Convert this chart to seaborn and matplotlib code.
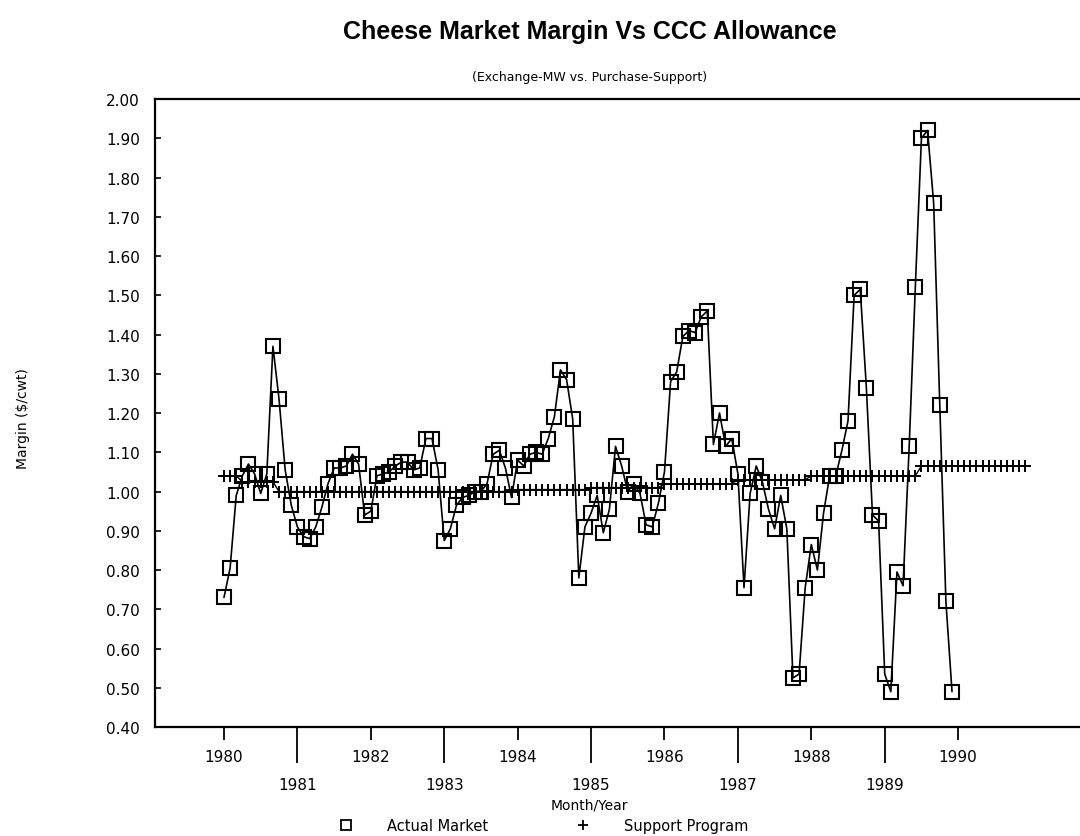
import numpy as np
import pandas as pd
import matplotlib
matplotlib.use("Agg")
import matplotlib.pyplot as plt
import seaborn as sns
from matplotlib import font_manager
from matplotlib.lines import Line2D

# monthly margin ($/cwt), Jan..Dec per year
actual_1980 = [0.73, 0.805, 0.99, 1.04, 1.07, 1.045, 0.995, 1.045, 1.37, 1.235, 1.055, 0.965]
actual_1981 = [0.91, 0.885, 0.88, 0.91, 0.96, 1.02, 1.06, 1.06, 1.065, 1.095, 1.07, 0.94]
actual_1982 = [0.95, 1.04, 1.045, 1.05, 1.065, 1.075, 1.075, 1.055, 1.06, 1.135, 1.135, 1.055]
actual_1983 = [0.875, 0.905, 0.965, 0.985, 0.99, 1.00, 1.00, 1.02, 1.095, 1.105, 1.06, 0.985]
actual_1984 = [1.08, 1.065, 1.095, 1.10, 1.095, 1.135, 1.19, 1.31, 1.285, 1.185, 0.78, 0.91]
actual_1985 = [0.945, 0.99, 0.895, 0.955, 1.115, 1.065, 1.00, 1.02, 0.995, 0.915, 0.91, 0.97]
actual_1986 = [1.05, 1.28, 1.305, 1.395, 1.41, 1.405, 1.445, 1.46, 1.12, 1.20, 1.115, 1.135]
actual_1987 = [1.045, 0.755, 0.995, 1.065, 1.025, 0.955, 0.905, 0.99, 0.905, 0.525, 0.535, 0.755]
actual_1988 = [0.865, 0.80, 0.945, 1.04, 1.04, 1.105, 1.18, 1.50, 1.515, 1.265, 0.94, 0.925]
actual_1989 = [0.535, 0.49, 0.795, 0.76, 1.115, 1.52, 1.90, 1.92, 1.735, 1.22, 0.72, 0.49]

# support program allowance: (level, number of months), Jan 1980 .. Dec 1990
support_levels = [1.04, 1.025, 1.00, 1.005, 1.01, 1.02, 1.03, 1.04, 1.065]
support_months = [3, 6, 39, 12, 12, 12, 12, 18, 18]

even_years = [1980, 1982, 1984, 1986, 1988, 1990]
odd_years = [1981, 1983, 1985, 1987, 1989]
y_ticks = [0.40, 0.50, 0.60, 0.70, 0.80, 0.90, 1.00, 1.10, 1.20, 1.30, 1.40, 1.50, 1.60, 1.70, 1.80, 1.90, 2.00]

actual = (actual_1980 + actual_1981 + actual_1982 + actual_1983 + actual_1984 +
          actual_1985 + actual_1986 + actual_1987 + actual_1988 + actual_1989)
support = np.repeat(support_levels, support_months)

df_actual = pd.DataFrame({"year": 1980 + np.arange(len(actual)) / 12, "margin": actual})
df_support = pd.DataFrame({"year": 1980 + np.arange(len(support)) / 12, "margin": support})

sns.set_style("ticks")
avail = {f.name for f in font_manager.fontManager.ttflist}
title_font = "Liberation Sans" if "Liberation Sans" in avail else "DejaVu Sans"
plt.rcParams["font.family"] = ["DejaVu Sans"]
for k in ["text.color", "axes.labelcolor", "xtick.color", "ytick.color", "axes.edgecolor"]:
    plt.rcParams[k] = "black"

fig = plt.figure(figsize=(10.8, 8.37), dpi=100)
ax = fig.add_axes([0.1435, 0.1302, 0.8565, 0.7503])

sns.lineplot(data=df_support, x="year", y="margin", ax=ax, color="black", lw=1.0,
             marker="+", markersize=8, mew=1.4, mec="black")
sns.lineplot(data=df_actual, x="year", y="margin", ax=ax, color="black", lw=1.2,
             marker="s", markersize=10, mew=1.5, mfc="none", mec="black")

ax.set_xlim(1979.06, 1991.66)
ax.set_ylim(0.40, 2.00)
ax.set_yticks(y_ticks)
ax.set_yticklabels([f"{v:.2f}" for v in y_ticks])
ax.set_xticks(even_years)
ax.set_xticklabels([str(y) for y in even_years])
ax.set_xticks(odd_years, minor=True)
ax.set_xticklabels([str(y) for y in odd_years], minor=True)
ax.set_xlabel("")
ax.set_ylabel("")

ax.tick_params(axis="x", which="major", direction="out", length=9, width=1.3, pad=7, labelsize=11)
ax.tick_params(axis="x", which="minor", direction="out", length=26, width=1.3, pad=10, labelsize=11)
ax.tick_params(axis="y", direction="in", length=4, width=1.2, pad=11, labelsize=11)

for s in ["left", "bottom", "top"]:
    ax.spines[s].set_linewidth(1.6)
ax.spines["right"].set_visible(False)

fig.text(0.546, 0.962, "Cheese Market Margin Vs CCC Allowance", ha="center", va="center",
         fontsize=18, fontweight="bold", family=title_font)
fig.text(0.546, 0.908, "(Exchange-MW vs. Purchase-Support)", ha="center", va="center", fontsize=9)
fig.text(0.546, 0.038, "Month/Year", ha="center", va="center", fontsize=10)
fig.text(0.021, 0.50, "Margin ($/cwt)", ha="center", va="center", rotation=90, fontsize=10)

handles = [Line2D([], [], ls="none", marker="s", markersize=7, mfc="none", mec="black", mew=1.3),
           Line2D([], [], ls="none", marker="+", markersize=7, mec="black", mew=1.3)]
fig.legend(handles, ["Actual Market", "Support Program"], loc="center", bbox_to_anchor=(0.5, 0.012),
           ncol=2, frameon=False, fontsize=10.5, handletextpad=1.8, columnspacing=5.5)

fig.savefig("out.png", dpi=100)
